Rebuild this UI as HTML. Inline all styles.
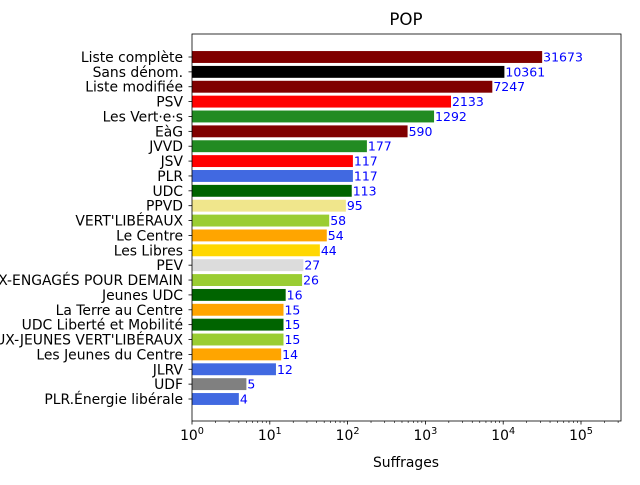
<!DOCTYPE html>
<html><head><meta charset="utf-8"><style>
body{margin:0;background:#fff}
text{font-family:"DejaVu Sans","Liberation Sans",sans-serif}
</style></head><body>
<svg id="chart" width="640" height="480" xmlns="http://www.w3.org/2000/svg">
<rect width="640" height="480" fill="#fff"/>
<text x="406" y="25" font-size="16.7" text-anchor="middle">POP</text>
<text x="406" y="467" font-size="13.9" text-anchor="middle">Suffrages</text>
<g id="plot"></g>
</svg>
<script>
const categories=["Liste complète","Sans dénom.","Liste modifiée","PSV","Les Vert·e·s","EàG","JVVD","JSV","PLR","UDC","PPVD","VERT'LIBÉRAUX","Le Centre","Les Libres","PEV","X-ENGAGÉS POUR DEMAIN","Jeunes UDC","La Terre au Centre","UDC Liberté et Mobilité","UX-JEUNES VERT'LIBÉRAUX","Les Jeunes du Centre","JLRV","UDF","PLR.Énergie libérale"];
const values=[31673,10361,7247,2133,1292,590,177,117,117,113,95,58,54,44,27,26,16,15,15,15,14,12,5,4];
const colors=["#800000","#000000","#800000","#ff0000","#228b22","#800000","#228b22","#ff0000","#4169e1","#006400","#f0e68c","#9acd32","#ffa500","#ffd700","#dcdcdc","#9acd32","#006400","#ffa500","#006400","#9acd32","#ffa500","#4169e1","#808080","#4169e1"];
const tickExps=[0,1,2,3,4,5];
const NS="http://www.w3.org/2000/svg";
const L=192,R=621,T=34,B=421,dec=77.8;
const xs=v=>L+Math.log10(v)*dec;
const step=(399-57)/23;
const ys=i=>57+i*step;
const g=document.getElementById('plot');
function mk(t,a){const e=document.createElementNS(NS,t);for(const k in a)e.setAttribute(k,a[k]);g.appendChild(e);return e;}
categories.forEach((c,i)=>{
 const y=ys(i),h=step*0.8;
 const r=mk('rect',{x:L,y:y-h/2,width:xs(values[i])-L,height:h,fill:colors[i]});
 
 
 const v=mk('text',{x:xs(values[i])+1,y:y+4.5,'font-size':'12.5',fill:'#0000ff'});
 v.textContent=values[i];
 
 
 mk('line',{x1:L-3.5,x2:L,y1:y,y2:y,stroke:'#000','stroke-width':0.8});
 const t=mk('text',{x:L-9,y:y+5,'font-size':'13.9','text-anchor':'end'});
 t.textContent=c;
 
 
});
tickExps.forEach(e=>{
 const x=xs(Math.pow(10,e));
 mk('line',{x1:x,x2:x,y1:B,y2:B+3.5,stroke:'#000','stroke-width':0.8});
 const t=mk('text',{x:x,y:B+19,'font-size':'13.9','text-anchor':'middle'});
 t.innerHTML='10<tspan dy="-6" font-size="9.7">'+e+'</tspan>';
 
 
 for(let m=2;m<10;m++){const xm=xs(m*Math.pow(10,e));if(xm<R)mk('line',{x1:xm,x2:xm,y1:B,y2:B+2,stroke:'#000','stroke-width':0.6});}
});
const f=mk('rect',{x:L,y:T,width:R-L,height:B-T,fill:'none',stroke:'#000','stroke-width':0.8});


</script>
</body></html>
